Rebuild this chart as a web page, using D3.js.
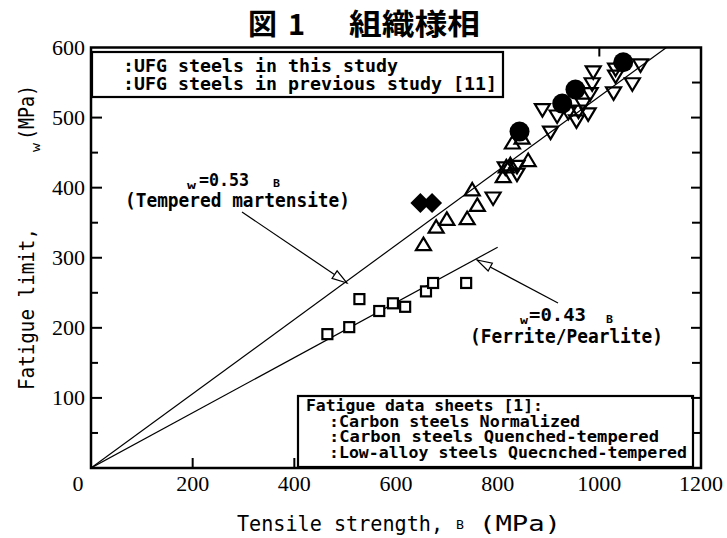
<!DOCTYPE html>
<html><head><meta charset="utf-8">
<script src="https://cdn.jsdelivr.net/npm/d3@7"></script>
<style>body{margin:0;background:#fff}</style>
</head><body>
<svg id="c" width="727" height="538"></svg>
<script>
// ---- data (tensile strength σB, fatigue limit σw, MPa) ----
const ufgThis = [[843,480],[927,520],[953,540],[1047,579]];
const ufgPrev = [[648,378],[671,378]];
const carbonNorm = [[465,191],[508,201],[528,241],[567,224],[594,235],[618,230],[659,252],[673,264],[738,264]];
const carbonQT = [[654,318],[679,343],[700,354],[740,355],[760,374],[750,396],[811,415],[817,429],[825,432],[860,438],[829,463],[848,470]];
const lowAlloyQT = [[791,386],[815,429],[838,431],[838,420],[888,512],[904,480],[917,503],[939,508],[955,496],[959,510],[968,520],[978,506],[982,535],[986,549],[988,566],[1028,536],[1032,560],[1065,549],[1081,576],[1032,570]];
const lineTM = [[0,0],[1132,600]];   // σw = 0.53 σB
const lineFP = [[0,0],[800,315]];    // σw = 0.43 σB (as drawn)
const xTicks = [0,200,400,600,800,1000,1200];
const yTicks = [100,200,300,400,500,600];
const yMinor = [50,150,250,350,450,550];
const legendTop = [":UFG steels in this study", ":UFG steels in previous study [11]"];
const legendBottom = ["Fatigue data sheets [1]:", ":Carbon steels Normalized", ":Carbon steels  Quenched-tempered", ":Low-alloy steels Quecnched-tempered"];

const svg = d3.select("#c");
const L=91,R=701,T=47.5,B=468;
const x = d3.scaleLinear().domain([0,1200]).range([L,R]);
const y = d3.scaleLinear().domain([0,600]).range([B,T]);
const mono = "'DejaVu Sans Mono','Liberation Mono',monospace";
const serif = "'Liberation Serif','DejaVu Serif',serif";
const cjk = "'Noto Sans CJK JP','Noto Sans CJK SC',sans-serif";

function txt(g,xx,yy,s,size,o={}){
  const t=g.append("text").attr("x",xx).attr("y",yy).text(s)
    .attr("font-family",o.family||mono).attr("font-size",size)
    .attr("font-weight",o.bold?"bold":"normal").attr("fill","#000");
  if(o.len){t.attr("textLength",o.len).attr("lengthAdjust","spacingAndGlyphs");}
  if(o.anchor) t.attr("text-anchor",o.anchor);
  return t;
}

// title
txt(svg,248,35,"図",29,{family:cjk,bold:true});
txt(svg,288,35,"1",29,{family:cjk,bold:true});
txt(svg,349,35,"組織様相",29,{family:cjk,bold:true,len:131});

// clip
svg.append("clipPath").attr("id","pc").append("rect").attr("x",L).attr("y",T).attr("width",R-L).attr("height",B-T);
const line = d3.line().x(d=>x(d[0])).y(d=>y(d[1]));
const pg = svg.append("g").attr("clip-path","url(#pc)");
[lineTM,lineFP].forEach(d=>pg.append("path").attr("d",line(d)).attr("fill","none").attr("stroke","#000").attr("stroke-width",1.2));

// arrows (open heads)
function arrow(x1,y1,x2,y2){
  svg.append("line").attr("x1",x1).attr("y1",y1).attr("x2",x2).attr("y2",y2).attr("stroke","#000").attr("stroke-width",1.2);
  const a=Math.atan2(y2-y1,x2-x1), len=15, w=4.5;
  const bx=x2-len*Math.cos(a), by=y2-len*Math.sin(a);
  const px=-Math.sin(a)*w, py=Math.cos(a)*w;
  svg.append("path").attr("d",`M${x2},${y2}L${bx+px},${by+py}L${bx-px},${by-py}Z`)
    .attr("fill","#fff").attr("stroke","#000").attr("stroke-width",1.2);
}
arrow(242,212,347,283);
arrow(558,303,477,260);

// markers
const mg = svg.append("g");
carbonNorm.forEach(d=>mg.append("rect").attr("x",x(d[0])-5).attr("y",y(d[1])-5).attr("width",10).attr("height",10)
  .attr("fill","#fff").attr("stroke","#000").attr("stroke-width",2.2));
const triUp="M0,-7.5L7.5,5L-7.5,5Z", triDn="M0,7.5L7.5,-5L-7.5,-5Z";
carbonQT.forEach(d=>mg.append("path").attr("d",triUp).attr("transform",`translate(${x(d[0])},${y(d[1])})`)
  .attr("fill","none").attr("stroke","#000").attr("stroke-width",2.2));
lowAlloyQT.forEach(d=>mg.append("path").attr("d",triDn).attr("transform",`translate(${x(d[0])},${y(d[1])})`)
  .attr("fill","none").attr("stroke","#000").attr("stroke-width",2.2));
ufgPrev.forEach(d=>mg.append("path").attr("d","M0,-10L10,0L0,10L-10,0Z").attr("transform",`translate(${x(d[0])},${y(d[1])})`).attr("fill","#000"));
ufgThis.forEach(d=>mg.append("circle").attr("cx",x(d[0])).attr("cy",y(d[1])).attr("r",10).attr("fill","#000"));

// annotations
txt(svg,187,189,"w",10,{bold:true,len:9});
txt(svg,199,186,"=0.53",18,{bold:true,len:50});
txt(svg,273,187,"B",10,{bold:true,len:7});
txt(svg,125,207,"(Tempered martensite)",19,{bold:true,len:225});
txt(svg,520,324,"w",10,{bold:true,len:8});
txt(svg,529,321,"=0.43",18,{bold:true,len:57});
txt(svg,606,323,"B",10,{bold:true,len:7});
txt(svg,470,343,"(Ferrite/Pearlite)",19,{bold:true,len:193});

// legend boxes
svg.append("rect").attr("x",92).attr("y",52).attr("width",411).attr("height",45).attr("fill","#fff").attr("stroke","#000").attr("stroke-width",2.2);
txt(svg,123,72,legendTop[0],18,{bold:true,len:275});
txt(svg,123,90,legendTop[1],18,{bold:true,len:374});
svg.append("rect").attr("x",298).attr("y",396).attr("width",395).attr("height",71).attr("fill","#fff").attr("stroke","#000").attr("stroke-width",2.2);
txt(svg,306,411,legendBottom[0],15.5,{bold:true,len:237});
txt(svg,329,427,legendBottom[1],15.5,{bold:true,len:251});
txt(svg,329,442,legendBottom[2],15.5,{bold:true,len:330});

// axes frame
const ag = svg.append("g").attr("stroke","#000");
ag.append("rect").attr("x",L).attr("y",T).attr("width",R-L).attr("height",B-T).attr("fill","none").attr("stroke-width",2.5);
xTicks.filter(v=>v>0&&v<1200).forEach(v=>{
  if(x(v)<298||x(v)>693) ag.append("line").attr("x1",x(v)).attr("x2",x(v)).attr("y1",B).attr("y2",B-10).attr("stroke-width",2);
  if(x(v)<92||x(v)>503) ag.append("line").attr("x1",x(v)).attr("x2",x(v)).attr("y1",T).attr("y2",T+9).attr("stroke-width",2);
});
yTicks.filter(v=>v<600).forEach(v=>{
  if(y(v)>97) ag.append("line").attr("x1",L).attr("x2",L+11).attr("y1",y(v)).attr("y2",y(v)).attr("stroke-width",2);
  ag.append("line").attr("x1",R).attr("x2",R-10).attr("y1",y(v)).attr("y2",y(v)).attr("stroke-width",2);
});
yMinor.forEach(v=>{
  if(y(v)>97) ag.append("line").attr("x1",L).attr("x2",L+7).attr("y1",y(v)).attr("y2",y(v)).attr("stroke-width",2);
  ag.append("line").attr("x1",R).attr("x2",R-9).attr("y1",y(v)).attr("y2",y(v)).attr("stroke-width",2);
});
txt(svg,329,458,legendBottom[3],15.5,{bold:true,len:358});

// tick labels
xTicks.forEach(v=>txt(svg, v===0?78:x(v), 491, String(v), 22, {family:serif,anchor:"middle"}));
yTicks.forEach(v=>txt(svg, 85, y(v)+7.5, String(v), 22, {family:serif,anchor:"end"}));

// axis titles
txt(svg,237,531,"Tensile strength,",21,{len:206});
txt(svg,456,529,"B",12,{len:8});
txt(svg,479,531,"(MPa)",21,{len:82});
const yt = svg.append("g").attr("transform","rotate(-90)");
txt(yt,-390,34,"Fatigue limit,",21,{len:162});
txt(yt,-152,40,"w",12,{len:9});
txt(yt,-140,34,"(MPa)",21,{len:55});
</script>
</body></html>
